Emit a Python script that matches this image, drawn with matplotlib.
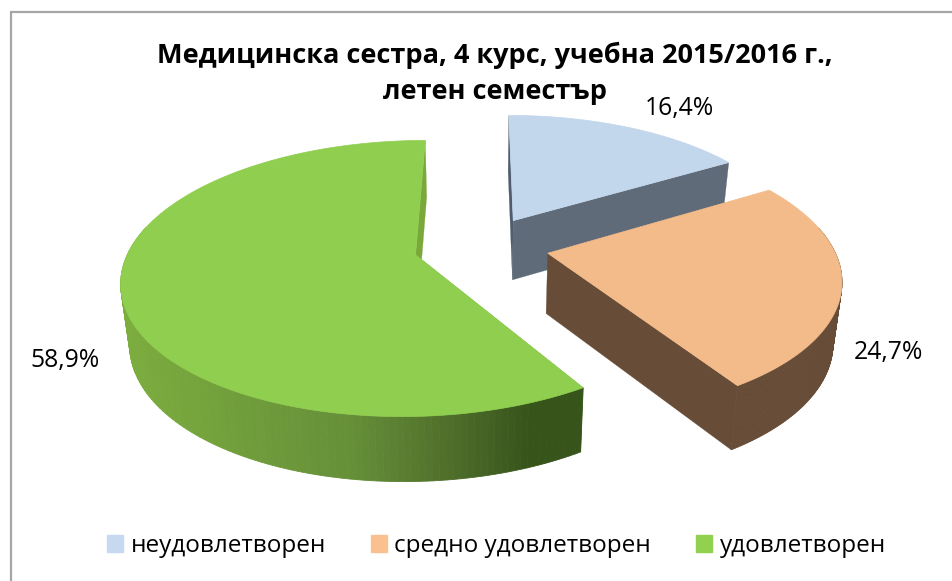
import numpy as np
import matplotlib
matplotlib.use("Agg")
import matplotlib.pyplot as plt
from matplotlib.patches import Patch
from matplotlib.colors import to_rgb

plt.rcParams['font.family'] = ['Open Sans', 'DejaVu Sans']

title = "Медицинска сестра, 4 курс, учебна 2015/2016 г.,\nлетен семестър"
categories = ["неудовлетворен", "средно удовлетворен", "удовлетворен"]
values = [16.4, 24.7, 58.9]
top_colors = ["#c2d6ec", "#f4bb8a", "#8fce4f"]
side_colors = ["#5f6b78", "#674c37", "#7aa83a"]
legend_colors = ["#c6d9f1", "#fac090", "#92d050"]
label_pos = [(679, 108), (888, 353), (65, 361)]
explode = [0.23, 0.235, 0.24]

X0, Y0, A, B, K, DEPTH = 482.0, 246.0, 285.0, 131.0, 0.17, 60.0
START = 0.0


def project(X, Y, low=False):
    s = 1.0 / (1.0 + K * Y)
    x = X0 + A * X * s
    y = Y0 - B * Y * s
    if low:
        x = X0 + (x - X0) * 0.975
        y = y + DEPTH * s ** 0.4
    return x, y


def green_grad(x):
    stops_x = [120, 350, 450, 530]
    stops_c = np.array([to_rgb(c) for c in ["#7cad3e", "#668f39", "#4e6e2a", "#37541b"]])
    return tuple(np.interp(x, stops_x, stops_c[:, i]) for i in range(3))


fig = plt.figure(figsize=(9.52, 5.81), dpi=100)
ax = fig.add_axes([0, 0, 1, 1])
ax.set_xlim(0, 952)
ax.set_ylim(581, 0)
ax.axis("off")

# chart frame: only its left and top edges fall inside the crop
ax.plot([10.5, 10.5, 952], [581, 11.5, 11.5], color="#a6a6a6", lw=1.6, zorder=1,
        solid_joinstyle="miter")

degs = np.array(values) / np.sum(values) * 360.0
starts = START + np.concatenate([[0], np.cumsum(degs)[:-1]])

for i in [0, 2, 1]:
    a0, a1 = starts[i], starts[i] + degs[i]
    mid = np.radians((a0 + a1) / 2)
    ox, oy = explode[i] * np.sin(mid), explode[i] * np.cos(mid)
    th = np.radians(np.linspace(a0, a1, 181))
    RX, RY = ox + np.sin(th), oy + np.cos(th)
    tx, ty = project(RX, RY)
    bx, by = project(RX, RY, low=True)
    ax_, ay_ = project(ox, oy)
    abx, aby = project(ox, oy, low=True)
    z = 2 + i * 0.1
    # radial walls facing the viewer
    if i == 2:
        ax.fill([ax_, tx[0], bx[0], abx], [ay_, ty[0], by[0], aby], color="#7aa83a", lw=0.2, zorder=z)
        ax.fill([ax_, tx[-1], bx[-1], abx], [ay_, ty[-1], by[-1], aby], color="#7aa83a", lw=0.2, zorder=z)
    elif i == 0:
        ax.fill([ax_, tx[0], bx[0], abx], [ay_, ty[0], by[0], aby], color="#4f5d6e", lw=0.2, zorder=z)
        ax.fill([ax_, tx[-1], bx[-1], abx], [ay_, ty[-1], by[-1], aby], color=side_colors[i], lw=0.2, zorder=z)
    else:
        ax.fill([ax_, tx[-1], bx[-1], abx], [ay_, ty[-1], by[-1], aby], color=side_colors[i], lw=0.2, zorder=z)
    # outer wall, only the part that is in front of the top face
    for j in range(len(th) - 1):
        if by[j] <= ty[j] or np.cos(th[j]) > 0.2:
            continue
        c = green_grad((tx[j] + tx[j + 1]) / 2) if i == 2 else side_colors[i]
        ax.fill([tx[j], tx[j + 1], bx[j + 1], bx[j]], [ty[j], ty[j + 1], by[j + 1], by[j]],
                color=c, lw=0.6, zorder=z + 0.01)
    # top face
    ax.fill(np.r_[ax_, tx], np.r_[ay_, ty], color=top_colors[i], lw=0.5, zorder=z + 0.02)

for i in range(3):
    ax.text(*label_pos[i], f"{values[i]:.1f}%".replace(".", ","), ha="center", va="center",
            fontsize=17.8, color="black", zorder=5)

ax.text(495, 73, title, ha="center", va="center", fontsize=19.5, fontweight="bold",
        linespacing=1.5, color="black", zorder=5)

handles = [Patch(color=c, label=l) for c, l in zip(legend_colors, categories)]
ax.legend(handles=handles, ncol=3, loc="center", bbox_to_anchor=(496.5, 546),
          bbox_transform=ax.transData, frameon=False, fontsize=17.5,
          handlelength=0.67, handleheight=0.67, handletextpad=0.3, columnspacing=1.85)

fig.savefig("out.png", dpi=100)
